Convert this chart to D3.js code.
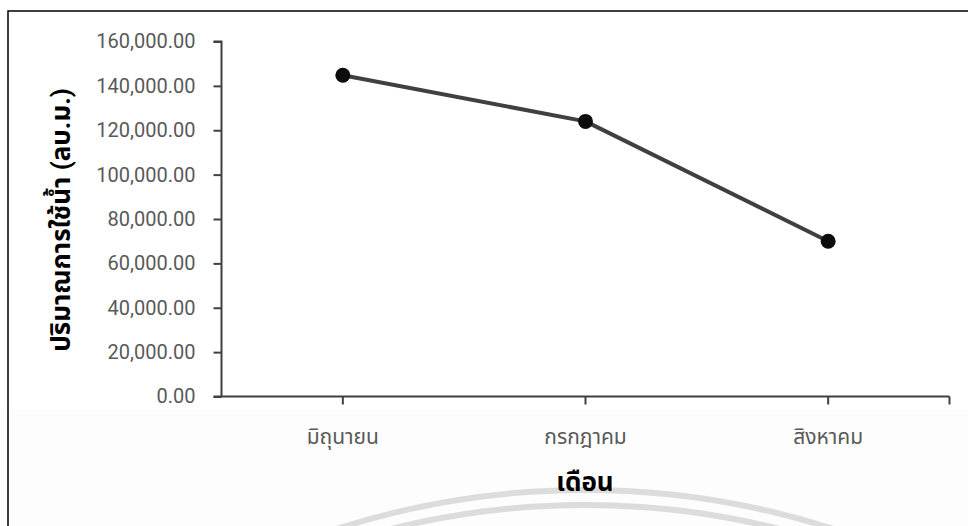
<!DOCTYPE html>
<html>
<head>
<meta charset="utf-8">
<script src="https://cdn.jsdelivr.net/npm/d3@7"></script>
<style>
  html, body { margin: 0; padding: 0; background: #ffffff; }
  svg { display: block; }
</style>
</head>
<body>
<svg id="chart" width="968" height="526"></svg>
<script>
// Monthly water usage (cubic metres)
const months = ["มิถุนายน", "กรกฎาคม", "สิงหาคม"];
const usage = [144800, 124000, 70000];
const yTicks = [0, 20000, 40000, 60000, 80000, 100000, 120000, 140000, 160000];
const yTitle = "ปริมาณการใช้น้ำ (ลบ.ม.)";
const xTitle = "เดือน";

const svg = d3.select("#chart");
const W = 968, H = 526;
const plot = { left: 221.5, right: 949.5, top: 41.5, bottom: 396.5 };
const font = "Roboto, 'Noto Sans', 'Noto Sans Thai', sans-serif";

// paper tint on the lower part of the page
svg.append("rect").attr("x", 0).attr("y", 409).attr("width", W).attr("height", H - 409)
  .attr("fill", "#fdfdfd");

// faint circular seal in the page background
const seal = svg.append("g").attr("fill", "none").attr("stroke", "#dcdcdc");
[810, 795].forEach(r => {
  seal.append("circle").attr("cx", 585).attr("cy", 1300).attr("r", r)
    .attr("stroke-width", 6);
});

// page frame
svg.append("path").attr("d", `M8,${H} L8,11 L${W},11`)
  .attr("fill", "none").attr("stroke", "#000").attr("stroke-width", 1.5);

const x = d3.scaleBand().domain(months).range([plot.left, plot.right]).padding(0);
const y = d3.scaleLinear().domain([0, 160000]).range([plot.bottom, plot.top]);
const cx = d => x(d) + x.bandwidth() / 2;

// y axis
const yAxis = d3.axisLeft(y).tickValues(yTicks).tickSize(8).tickPadding(18)
  .tickFormat(d3.format(",.2f"));
const gy = svg.append("g").attr("transform", `translate(${plot.left},0)`).call(yAxis);
gy.select(".domain").attr("stroke", "#404040").attr("stroke-width", 2)
  .attr("d", `M-8,${plot.top}H0V${plot.bottom}`);
gy.selectAll(".tick line").attr("stroke", "#404040").attr("stroke-width", 2);
gy.selectAll(".tick text").attr("fill", "#595959")
  .style("font-family", font).style("font-size", "20px");

// x axis: ticks under each month plus the closing tick at the right end
const gx = svg.append("g").attr("transform", `translate(0,${plot.bottom})`);
gx.append("line").attr("x1", plot.left - 8).attr("x2", plot.right)
  .attr("stroke", "#404040").attr("stroke-width", 2);
const xTickPos = months.map(cx).concat([plot.right]);
gx.selectAll("line.tick").data(xTickPos).join("line").attr("class", "tick")
  .attr("x1", d => d).attr("x2", d => d).attr("y1", 0).attr("y2", 8)
  .attr("stroke", "#404040").attr("stroke-width", 2);
gx.selectAll("text").data(months).join("text")
  .attr("x", d => cx(d)).attr("y", 47)
  .attr("text-anchor", "middle").attr("fill", "#595959")
  .style("font-family", font).style("font-size", "21px")
  .text(d => d);

// axis titles
svg.append("text")
  .attr("transform", `translate(70,220) rotate(-90)`)
  .attr("text-anchor", "middle").attr("fill", "#000")
  .style("font-family", font).style("font-size", "26px").style("font-weight", "bold")
  .text(yTitle);
svg.append("text").attr("x", 585).attr("y", 491)
  .attr("text-anchor", "middle").attr("fill", "#000")
  .style("font-family", font).style("font-size", "26px").style("font-weight", "bold")
  .text(xTitle);

// series line and markers
const line = d3.line().x((d, i) => cx(months[i])).y(d => y(d));
svg.append("path").datum(usage).attr("d", line)
  .attr("fill", "none").attr("stroke", "#404040").attr("stroke-width", 4)
  .attr("stroke-linejoin", "round");
svg.selectAll("circle.pt").data(usage).join("circle").attr("class", "pt")
  .attr("cx", (d, i) => cx(months[i])).attr("cy", d => y(d)).attr("r", 7.5)
  .attr("fill", "#0d0d0d");
</script>
</body>
</html>
